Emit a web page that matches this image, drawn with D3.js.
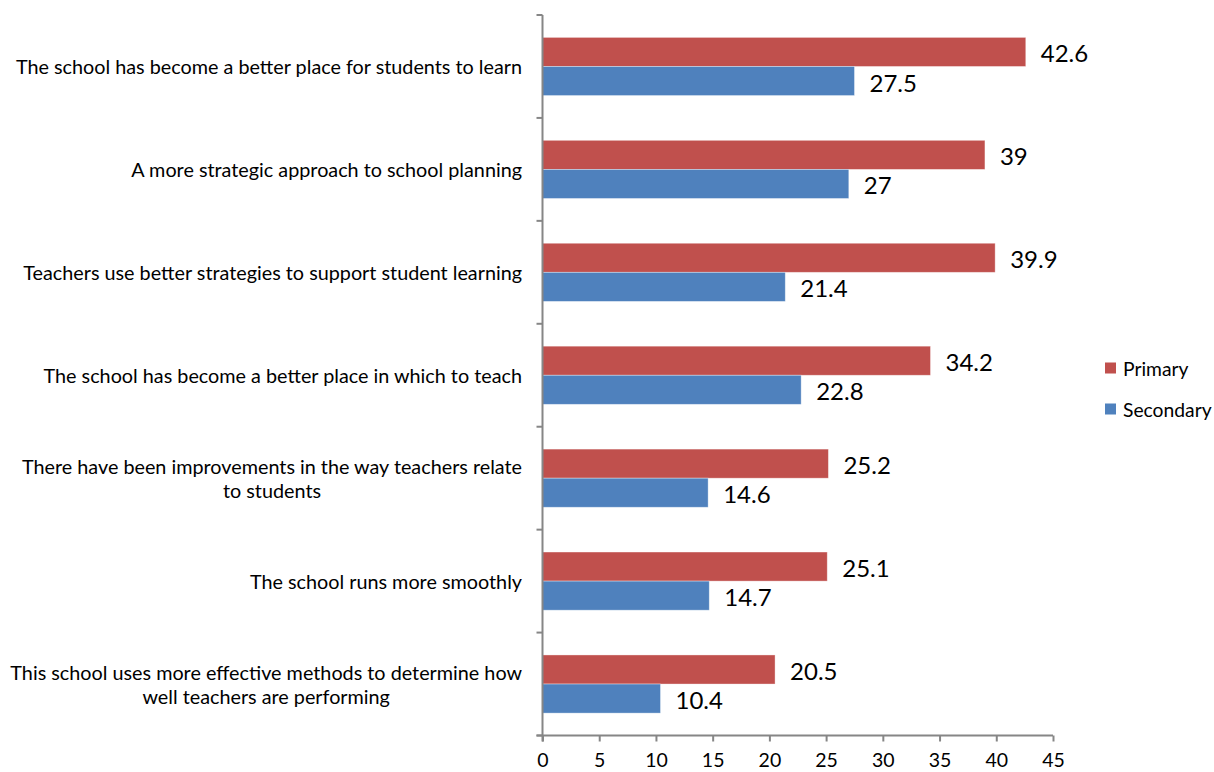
<!DOCTYPE html>
<html>
<head>
<meta charset="utf-8">
<script src="https://cdn.jsdelivr.net/npm/d3@7"></script>
<style>
  html, body { margin: 0; padding: 0; background: #fff; }
  svg text { font-family: Lato, "Open Sans", sans-serif; fill: #000; }
</style>
</head>
<body>
<svg id="chart" width="1214" height="772"></svg>
<script>
// Category labels, top to bottom; "\n" marks a line break
const categories = [
  "The school has become a better place for students to learn",
  "A more strategic approach to school planning",
  "Teachers use better strategies to support student learning",
  "The school has become a better place in which to teach",
  "There have been improvements in the way teachers relate\nto students",
  "The school runs more smoothly",
  "This school uses more effective methods to determine how\nwell teachers are performing"
];
const seriesNames = ["Primary", "Secondary"];
const primaryValues = [42.6, 39, 39.9, 34.2, 25.2, 25.1, 20.5];
const secondaryValues = [27.5, 27, 21.4, 22.8, 14.6, 14.7, 10.4];
const xTicks = [0, 5, 10, 15, 20, 25, 30, 35, 40, 45];
const seriesColors = ["#C0504D", "#4F81BD"];

const svg = d3.select("#chart");
const plot = { left: 542.5, right: 1053, top: 15, bottom: 735.5 };

const x = d3.scaleLinear().domain([0, 45]).range([plot.left, plot.right]);
const y = d3.scaleBand().domain(d3.range(categories.length)).range([plot.top, plot.bottom]).padding(0);
const ySub = d3.scaleBand().domain(seriesNames).range([0, y.bandwidth()]).paddingInner(0).paddingOuter(0.77);

const valuesBySeries = { Primary: primaryValues, Secondary: secondaryValues };
const rows = categories.map((c, i) => ({ i, c }));

// Bars with value labels
const groups = svg.append("g").selectAll("g").data(rows).join("g")
  .attr("transform", d => `translate(0,${y(d.i)})`);

seriesNames.forEach((s, si) => {
  groups.append("rect")
    .attr("x", x(0))
    .attr("y", ySub(s))
    .attr("width", d => x(valuesBySeries[s][d.i]) - x(0))
    .attr("height", ySub.bandwidth())
    .attr("fill", seriesColors[si])
    .attr("stroke", "rgba(255,255,255,0.45)")
    .attr("stroke-width", 0.8);

  groups.append("text")
    .attr("x", d => x(valuesBySeries[s][d.i]) + 15)
    .attr("y", ySub(s) + ySub.bandwidth() / 2 + 1)
    .attr("dominant-baseline", "central")
    .style("font-size", "24px")
    .text(d => valuesBySeries[s][d.i]);
});

// X axis
const xAxis = svg.append("g")
  .attr("transform", `translate(0,${plot.bottom})`)
  .call(d3.axisBottom(x).tickValues(xTicks).tickSize(6).tickSizeOuter(0).tickPadding(12));
xAxis.select(".domain").attr("stroke", "#868686").attr("stroke-width", 2)
  .attr("d", `M${plot.left - 6},0H${plot.right}`);
xAxis.selectAll(".tick line").attr("stroke", "#868686").attr("stroke-width", 2);
xAxis.selectAll(".tick text").style("font-size", "19.5px").style("font-family", "Lato, sans-serif").attr("fill", "#000");

// Y axis: boundary ticks between categories
const yBounds = d3.range(categories.length + 1).map(i => plot.top + i * y.step());
svg.append("line")
  .attr("x1", plot.left).attr("x2", plot.left)
  .attr("y1", plot.top).attr("y2", plot.bottom + 6)
  .attr("stroke", "#868686").attr("stroke-width", 2);
svg.append("g").selectAll("line").data(yBounds).join("line")
  .attr("x1", plot.left - 6).attr("x2", plot.left)
  .attr("y1", d => d).attr("y2", d => d)
  .attr("stroke", "#868686").attr("stroke-width", 2);

// Category labels: right-aligned block, wrapped lines centred within it
const labelRight = 522;
const lineH = 24;
rows.forEach(d => {
  const lines = d.c.split("\n");
  const cy = y(d.i) + y.bandwidth() / 2;
  const g = svg.append("g");
  const texts = lines.map((ln, k) => g.append("text")
    .attr("y", cy + (k - (lines.length - 1) / 2) * lineH)
    .attr("dominant-baseline", "central")
    .style("font-size", "19.8px")
    .text(ln));
  const widths = texts.map(t => t.node().getComputedTextLength());
  const maxW = d3.max(widths);
  const centre = labelRight - maxW / 2;
  texts.forEach(t => t.attr("x", centre).attr("text-anchor", "middle"));
});

// Legend
const legend = svg.append("g").selectAll("g").data(seriesNames).join("g")
  .attr("transform", (d, i) => `translate(1105,${368 + i * 41})`);
legend.append("rect").attr("x", 0).attr("y", -5.5).attr("width", 11).attr("height", 11)
  .attr("fill", (d, i) => seriesColors[i]);
legend.append("text").attr("x", 18).attr("y", 0).attr("dominant-baseline", "central")
  .style("font-size", "19.3px").text(d => d);
</script>
</body>
</html>
